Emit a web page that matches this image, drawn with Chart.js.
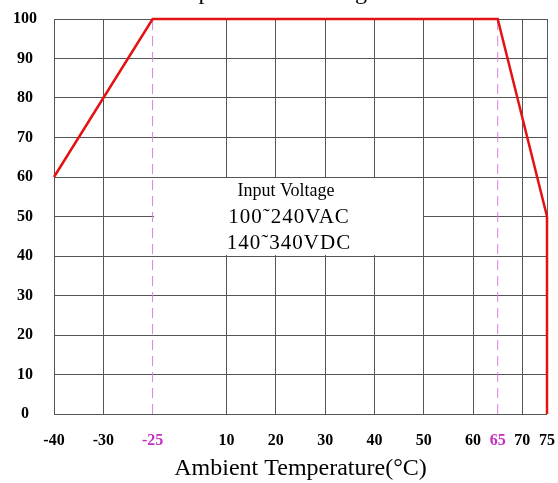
<!DOCTYPE html>
<html lang="en">
<head>
    <meta charset="UTF-8">
    <title>Derating Curve</title>
    <script src="https://cdn.jsdelivr.net/npm/chart.js"></script>
    <style>
        body { margin: 0; background: #fff; }
        #wrap { width: 558px; height: 483px; }
    </style>
</head>
<body>
    <div id="wrap"><canvas id="myChart" width="558" height="483"></canvas></div>

    <script>
        // axis is broken: temperature labels and where each one sits (in grid steps)
        const tickTemps = [-40, -30, -25, 10, 20, 30, 40, 50, 60, 65, 70, 75];
        const tickSteps = [0, 1, 2, 3.5, 4.5, 5.5, 6.5, 7.5, 8.5, 9, 9.5, 10];
        const markTemps = [-25, 65];
        const loadTicks = [0, 10, 20, 30, 40, 50, 60, 70, 80, 90, 100];

        // derating curve
        const curveTemp = [-40, -25, 65, 75, 75];
        const curveLoad = [60, 100, 100, 50, 0];

        const noteTitle = 'Input Voltage';
        const noteLines = ['100\u02DC240VAC', '140\u02DC340VDC'];
        const topTitle = 'Temperature Derating Curve';

        function toStep(t) {
            for (let i = 0; i < tickTemps.length - 1; i++) {
                if (t >= tickTemps[i] && t <= tickTemps[i + 1]) {
                    const f = (t - tickTemps[i]) / (tickTemps[i + 1] - tickTemps[i]);
                    return tickSteps[i] + f * (tickSteps[i + 1] - tickSteps[i]);
                }
            }
            return t < tickTemps[0] ? tickSteps[0] : tickSteps[tickSteps.length - 1];
        }

        const pink = '#dc82dc';
        const magenta = '#c42ec4';
        const gridCol = '#555555';

        Chart.defaults.font.family = "'Liberation Serif', 'Times New Roman', serif";
        Chart.defaults.color = '#000';

        const markSets = markTemps.map(t => ({
            data: [{ x: toStep(t), y: 0 }, { x: toStep(t), y: 100 }],
            borderColor: pink,
            borderWidth: 1,
            borderDash: [10, 6],
            pointRadius: 0,
            clip: false,
            order: 2
        }));

        // white note box over the grid cells, plus the texts
        const notePlugin = {
            id: 'note',
            beforeDatasetsDraw(chart) {
                const x = chart.scales.x, y = chart.scales.y, ctx = chart.ctx;
                const l = Math.round(x.getPixelForValue(toStep(-25))) + 1;
                const r = Math.round(x.getPixelForValue(toStep(50))) - 1;
                const t = Math.round(y.getPixelForValue(60)) + 1;
                const b = Math.round(y.getPixelForValue(40)) - 1;
                ctx.save();
                ctx.fillStyle = '#fff';
                ctx.fillRect(l, t, r - l, b - t);
                ctx.restore();
            },
            afterDraw(chart) {
                const ctx = chart.ctx;
                ctx.save();
                ctx.fillStyle = '#000';
                ctx.textAlign = 'center';
                ctx.textBaseline = 'middle';
                ctx.font = "18px 'Liberation Serif'";
                ctx.fillText(noteTitle, 286, 191);
                ctx.font = "21px 'Liberation Serif'";
                ctx.letterSpacing = '1px';
                ctx.fillText(noteLines[0], 289, 217);
                ctx.fillText(noteLines[1], 289, 243);
                ctx.letterSpacing = '0px';
                ctx.font = "24px 'Liberation Serif'";
                ctx.textBaseline = 'alphabetic';
                ctx.fillText(topTitle, 294, -1);
                ctx.restore();
            }
        };

        const ctx = document.getElementById('myChart').getContext('2d');
        const myChart = new Chart(ctx, {
            type: 'line',
            data: {
                datasets: [{
                    data: curveTemp.map((t, i) => ({ x: toStep(t), y: curveLoad[i] })),
                    borderColor: '#e41212',
                    borderWidth: 2.5,
                    pointRadius: 0,
                    fill: false,
                    clip: false,
                    order: 1
                }].concat(markSets)
            },
            options: {
                responsive: false,
                animation: false,
                layout: { padding: { top: 19, right: 11, left: 0, bottom: 0 } },
                plugins: { legend: { display: false }, tooltip: { enabled: false } },
                scales: {
                    x: {
                        type: 'linear',
                        min: 0,
                        max: 10,
                        afterBuildTicks: s => { s.ticks = tickSteps.map(v => ({ value: v })); },
                        afterFit: s => { s.height = 69; s.paddingLeft = 0; s.paddingRight = 0; },
                        border: { display: false },
                        grid: {
                            color: c => (c.tick && markTemps.includes(tickTemps[tickSteps.indexOf(c.tick.value)])) ? 'rgba(0,0,0,0)' : gridCol,
                            lineWidth: 1,
                            drawTicks: false
                        },
                        ticks: {
                            autoSkip: false,
                            maxRotation: 0,
                            padding: 17,
                            font: { size: 16, weight: 'bold' },
                            color: c => markTemps.includes(tickTemps[tickSteps.indexOf(c.tick.value)]) ? magenta : '#000',
                            callback: v => tickTemps[tickSteps.indexOf(v)]
                        },
                        title: {
                            display: true,
                            text: 'Ambient Temperature(\u00B0C)',
                            font: { size: 24 },
                            padding: { top: 4, bottom: 0 }
                        }
                    },
                    y: {
                        min: 0,
                        max: 100,
                        afterBuildTicks: s => { s.ticks = loadTicks.map(v => ({ value: v })); },
                        afterFit: s => { s.width = 54; s.paddingTop = 0; s.paddingBottom = 0; },
                        border: { display: false },
                        grid: { color: gridCol, lineWidth: 1, drawTicks: false },
                        ticks: {
                            padding: 17,
                            crossAlign: 'center',
                            font: { size: 16, weight: 'bold' }
                        }
                    }
                }
            },
            plugins: [notePlugin]
        });
    </script>
</body>
</html>
